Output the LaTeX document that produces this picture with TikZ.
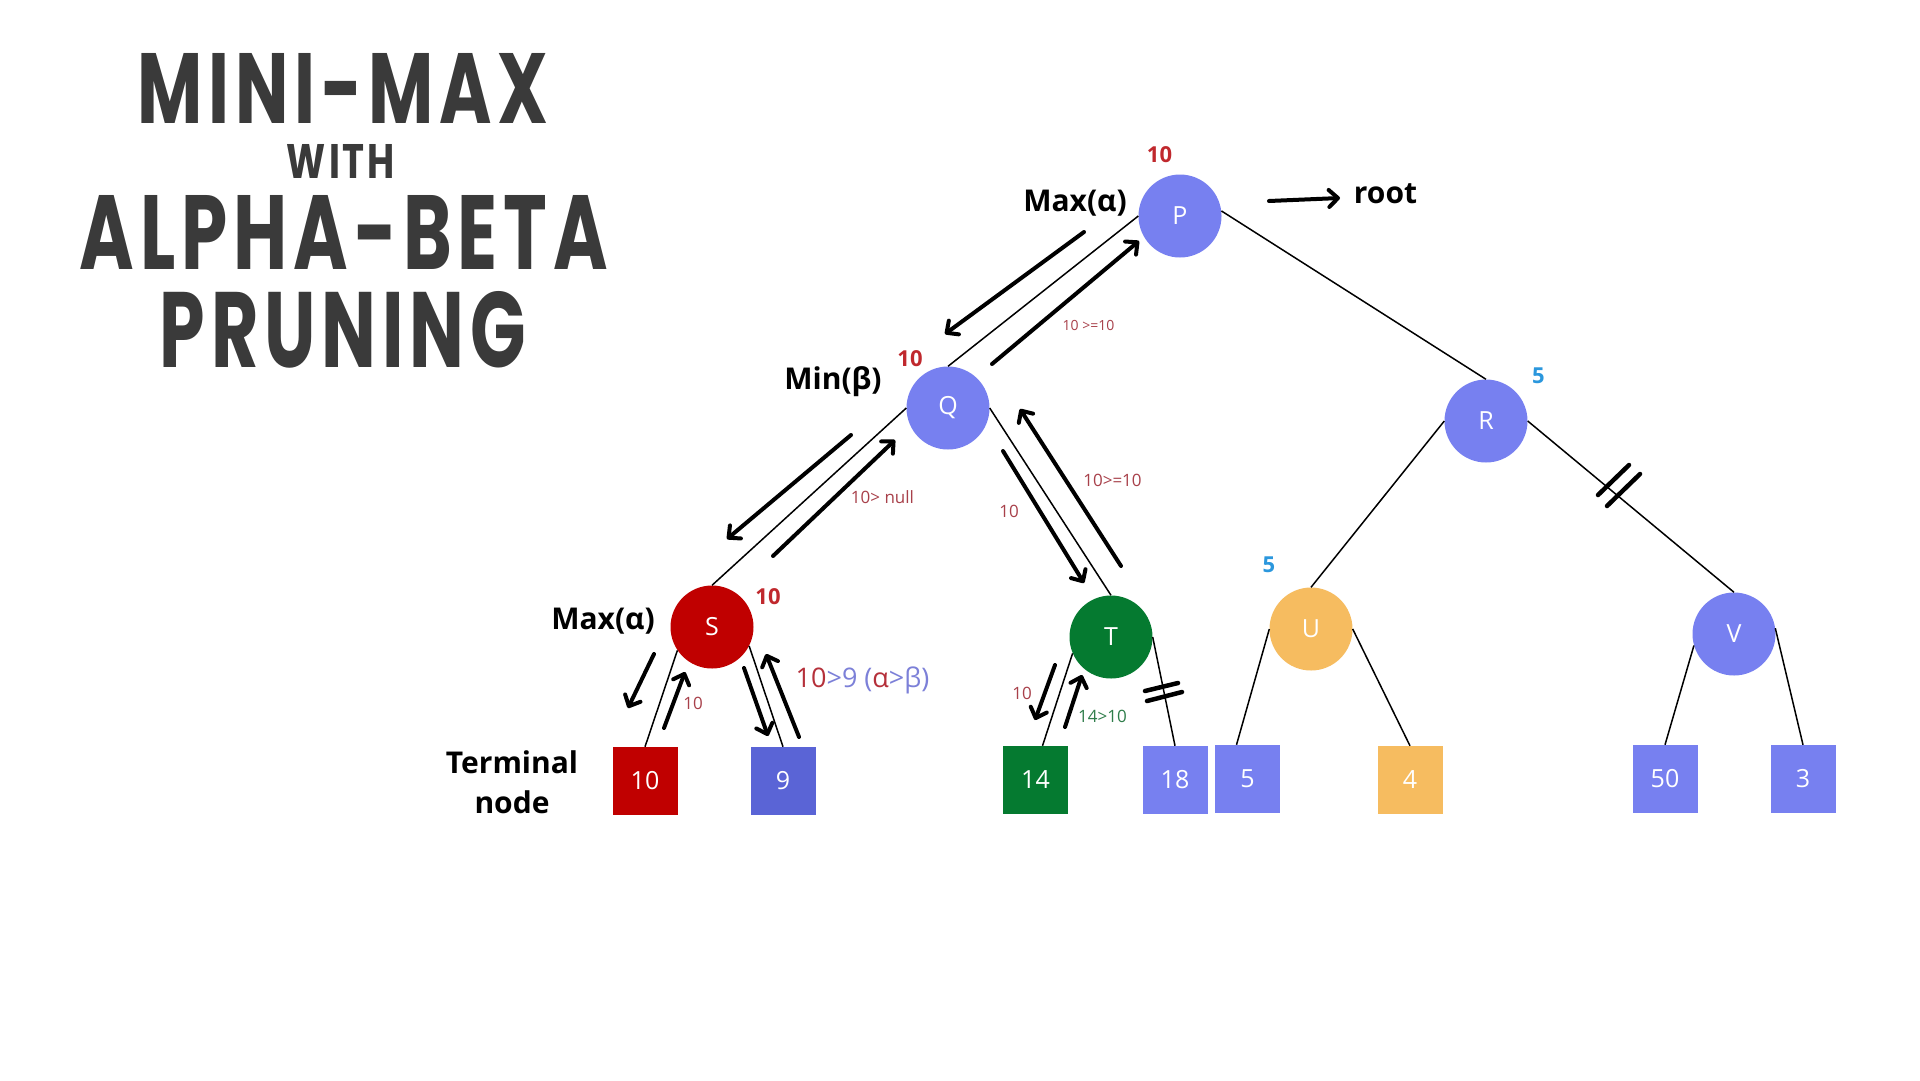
\documentclass[tikz,border=0pt]{standalone}
\usepackage{fontspec}
\usepackage{graphicx}
\setmainfont{Open Sans}
\newfontfamily\titlefont{Poppins}[LetterSpace=8]
\usetikzlibrary{arrows.meta,positioning}

\definecolor{nodeblue}{HTML}{7780F0}
\definecolor{deepblue}{HTML}{5A64D6}
\definecolor{nodered}{HTML}{C00000}
\definecolor{nodegreen}{HTML}{057A30}
\definecolor{nodeorange}{HTML}{F6BC60}
\definecolor{valred}{HTML}{C0282D}
\definecolor{valblue}{HTML}{2B97DD}
\definecolor{notered}{HTML}{A8404A}
\definecolor{notegreen}{HTML}{2E7D4A}
\definecolor{alphared}{HTML}{B5303A}
\definecolor{betablue}{HTML}{7C80D8}
\definecolor{titlegray}{HTML}{3A3A3A}

\begin{document}
\begin{tikzpicture}[x=1pt,y=-1pt,
  game/.style={circle,minimum size=83pt,inner sep=0pt,text=white,font=\fontsize{25}{25}\selectfont},
  leaf/.style={rectangle,minimum width=65pt,minimum height=68pt,inner sep=0pt,text=white,font=\fontsize{25}{25}\selectfont},
  tree/.style={line width=1.5pt},
  flow/.style={line width=4pt,line cap=round,-{Straight Barb[length=9pt,width=17pt,round]}},
  cut/.style={line width=4.5pt,line cap=round},
  tag/.style={font=\bfseries\fontsize{30}{40}\selectfont,align=center},
  val/.style={font=\bfseries\fontsize{22}{22}\selectfont},
  note/.style={font=\fontsize{17}{17}\selectfont,text=notered},
  headline/.style={inner sep=0pt,text=titlegray,font=\titlefont\bfseries}]
\fill[white] (0,0) rectangle (1920,1080);
\useasboundingbox (0,0) rectangle (1920,1080);

% title
\node[headline] (t1) at (343,88) {\resizebox{410pt}{70pt}{MINI-MAX}};
\node[headline] (t2) at (341,161) {\resizebox{108pt}{34pt}{WITH}};
\node[headline] (t3) at (344,232) {\resizebox{528pt}{74pt}{ALPHA-BETA}};
\node[headline] (t4) at (343,330) {\resizebox{366pt}{76pt}{PRUNING}};

% game tree
\node[game,fill=nodeblue] (P) at (1180,216) {P};
\node[game,fill=nodeblue] (Q) at (948,408) {Q};
\node[game,fill=nodeblue] (R) at (1486,421) {R};
\node[game,fill=nodered] (S) at (712,627) {S};
\node[game,fill=nodegreen] (T) at (1111,637) {T};
\node[game,fill=nodeorange] (U) at (1311,629) {U};
\node[game,fill=nodeblue] (V) at (1734,634) {V};

% terminal nodes
\node[leaf,fill=nodered] (l10) at (645,781) {10};
\node[leaf,fill=deepblue] (l9) at (783,781) {9};
\node[leaf,fill=nodegreen] (l14) at (1035.5,780) {14};
\node[leaf,fill=nodeblue] (l18) at (1175,780) {18};
\node[leaf,fill=nodeblue] (l5) at (1247.5,779) {5};
\node[leaf,fill=nodeorange] (l4) at (1410,780) {4};
\node[leaf,fill=nodeblue] (l50) at (1665,779) {50};
\node[leaf,fill=nodeblue] (l3) at (1803,779) {3};

\path[tree] (P.west) edge (Q.north)
(P.7) edge (R.north)
(Q.west) edge (S.north)
(Q.east) edge (T.north)
(R.west) edge (U.north)
(R.east) edge (V.north)
(S.214) edge (l10.north)
(S.-27) edge (l9.north)
(T.203) edge ([xshift=7pt]l14.north)
(T.east) edge (l18.north)
(U.west) edge ([xshift=-11pt]l5.north)
(U.east) edge (l4.north)
(V.196) edge (l50.north)
(V.8) edge (l3.north);

% level labels
\node[tag] (maxP) at (1075,203) {Max(α)};
\node[tag] (minQ) at (833,382) {Min(β)};
\node[tag] (maxS) at (603,621) {Max(α)};
\node[tag] (term) at (512,782) {Terminal\\node};
\node[tag] (root) at (1385.5,194) {root};

% backed-up values
\node[val,text=valred] (vP) at (1159.5,155) {10};
\node[val,text=valred] (vQ) at (910,359) {10};
\node[val,text=valred] (vS) at (768,597) {10};
\node[val,text=valblue] (vR) at (1538.5,376) {5};
\node[val,text=valblue] (vU) at (1269,565) {5};

% search arrows
\coordinate (a1) at (1084,232);  \coordinate (b1) at (945,334);
\coordinate (a2) at (992,364);   \coordinate (b2) at (1139,241);
\coordinate (a3) at (851,435);   \coordinate (b3) at (727,539);
\coordinate (a4) at (773,556);   \coordinate (b4) at (895,440);
\coordinate (a5) at (1003,451);  \coordinate (b5) at (1084,583);
\coordinate (a6) at (1121,566);  \coordinate (b6) at (1020,409);
\coordinate (a7) at (654,654);   \coordinate (b7) at (628,708);
\coordinate (a8) at (664,728);   \coordinate (b8) at (685,672);
\coordinate (a9) at (744,668);   \coordinate (b9) at (768,736);
\coordinate (a10) at (799,737);  \coordinate (b10) at (766,654);
\coordinate (a11) at (1055,665); \coordinate (b11) at (1035,720);
\coordinate (a12) at (1065,727); \coordinate (b12) at (1082,675);
\coordinate (a13) at (1269,201); \coordinate (b13) at (1340,198);
\foreach \i in {1,...,13}
  \draw[flow] (a\i) -- (b\i);

% comparisons
\node[note,font=\fontsize{14}{14}\selectfont] (c1) at (1088.5,325) {10 >=10};
\node[note] (c2) at (882.5,497) {10> null};
\node[note] (c3) at (1009,511) {10};
\node[note] (c4) at (1112.5,480) {10>=10};
\node[note] (c5) at (693,703) {10};
\node[note] (c6) at (1022,693) {10};
\node[note,text=notegreen] (c7) at (1102.5,716) {14>10};
\node[font=\fontsize{27}{27}\selectfont] (c8) at (862.5,680)
  {{\color{alphared}10}{\color{betablue}>9 (}{\color{alphared}α}{\color{betablue}>β)}};

% pruned branches
\foreach \x/\y/\u/\v in {1145/691/1178/683, 1147/701/1182/692, 1598/495/1629/465, 1607/506/1640/474}
  \draw[cut] (\x,\y) -- (\u,\v);
\end{tikzpicture}
\end{document}
